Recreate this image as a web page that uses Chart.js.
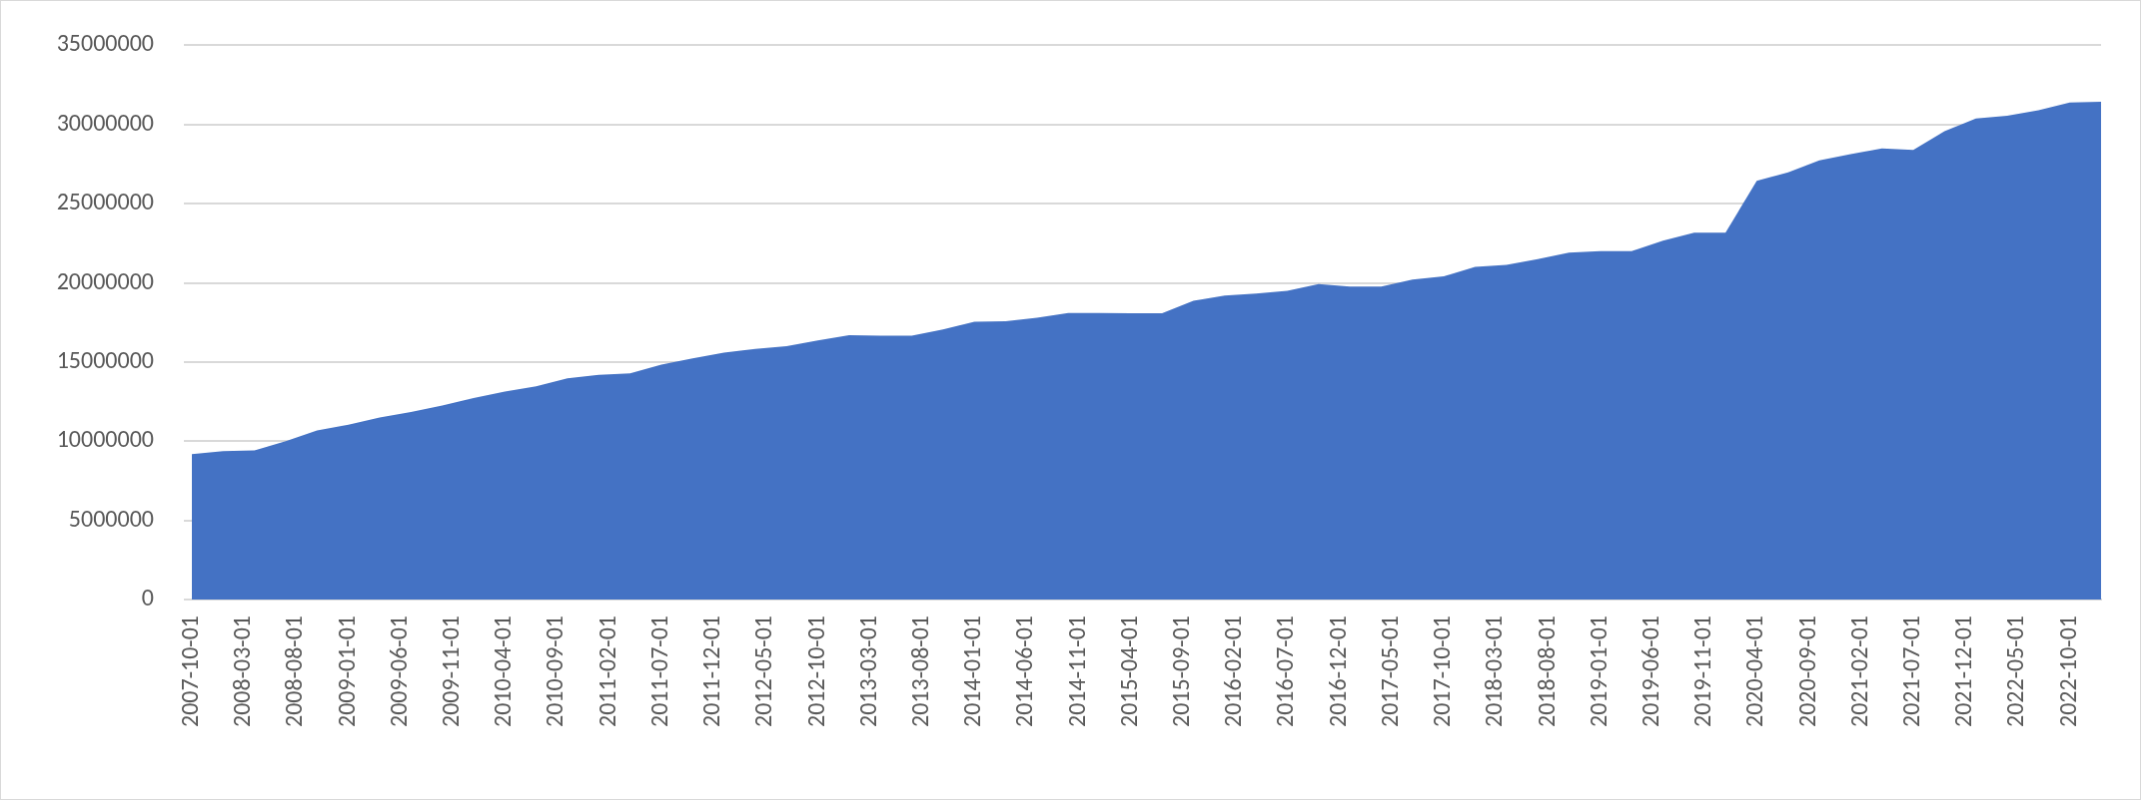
<!DOCTYPE html>
<html><head><meta charset="utf-8">
<script src="https://cdn.jsdelivr.net/npm/chart.js@4"></script>
<style>html,body{margin:0;padding:0;background:#fff}canvas{display:block;border:1px solid #d9d9d9}</style>
</head><body>
<canvas id="c" width="2141" height="800"></canvas>
<script>
// Quarterly observations, expressed as months since 2007-10
const quarterMonths = [0,3,6,9,12,15,18,21,24,27,30,33,36,39,42,45,48,51,54,57,60,63,66,69,72,75,78,81,84,87,90,93,96,99,102,105,108,111,114,117,120,123,126,129,132,135,138,141,144,147,150,153,156,159,162,165,168,171,174,177,180,183];
const values = [9180000,9370000,9410000,10000000,10670000,11040000,11500000,11840000,12260000,12720000,13140000,13470000,13970000,14190000,14290000,14830000,15230000,15590000,15820000,16000000,16360000,16700000,16660000,16660000,17050000,17540000,17580000,17790000,18100000,18100000,18080000,18080000,18860000,19190000,19320000,19500000,19920000,19760000,19760000,20200000,20410000,21010000,21140000,21500000,21900000,22000000,22000000,22670000,23170000,23170000,26440000,26970000,27740000,28120000,28490000,28390000,29580000,30380000,30550000,30900000,31390000,31430000];
const tickLabels = ["2007-10-01","2008-03-01","2008-08-01","2009-01-01","2009-06-01","2009-11-01","2010-04-01","2010-09-01","2011-02-01","2011-07-01","2011-12-01","2012-05-01","2012-10-01","2013-03-01","2013-08-01","2014-01-01","2014-06-01","2014-11-01","2015-04-01","2015-09-01","2016-02-01","2016-07-01","2016-12-01","2017-05-01","2017-10-01","2018-03-01","2018-08-01","2019-01-01","2019-06-01","2019-11-01","2020-04-01","2020-09-01","2021-02-01","2021-07-01","2021-12-01","2022-05-01","2022-10-01"];

const pts = values.map((v,i)=>({x:quarterMonths[i], y:v}));
new Chart(document.getElementById('c'), {
  type:'line',
  data:{datasets:[{data:pts, fill:'origin', backgroundColor:'#4472C4', borderWidth:0, pointRadius:0, tension:0}]},
  options:{
    responsive:false, animation:false,
    layout:{padding:{top:30,right:39,left:0,bottom:0}},
    plugins:{legend:{display:false}, tooltip:{enabled:false}},
    scales:{
      x:{type:'linear', min:0, max:183, offset:false,
        grid:{display:false}, border:{color:'#d9d9d9', width:2},
        afterBuildTicks:(s)=>{ s.ticks = tickLabels.map((_,i)=>({value:i*5})); },
        afterFit:(s)=>{ s.height = 200; },
        ticks:{autoSkip:false, maxRotation:90, minRotation:90, color:'#595959', padding:8,
          font:{family:'Calibri, Carlito, "Liberation Sans", Arial', size:24},
          callback:(v)=>tickLabels[Math.round(v/5)] }},
      y:{min:0, max:35000000,
        grid:{color:'#d9d9d9', lineWidth:2}, border:{display:false},
        afterFit:(s)=>{ s.width = 191; },
        ticks:{stepSize:5000000, color:'#595959', padding:30,
          font:{family:'Calibri, Carlito, "Liberation Sans", Arial', size:24},
          callback:(v)=>String(v)}}
    }
  }
});
</script>
</body></html>
